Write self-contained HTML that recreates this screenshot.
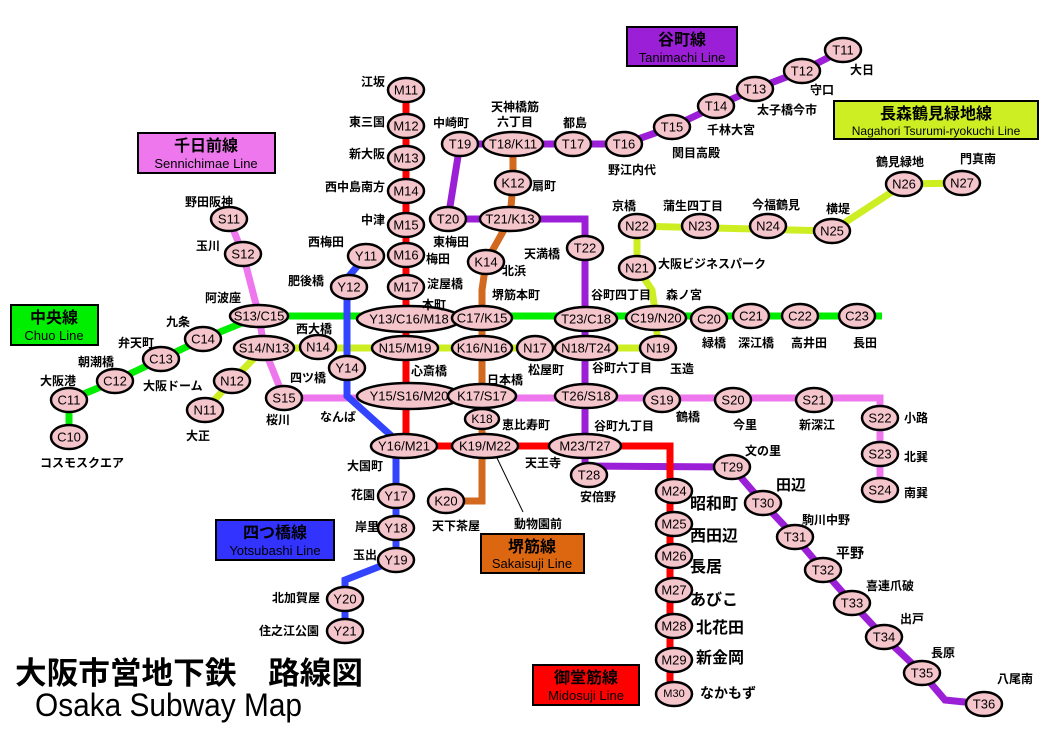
<!DOCTYPE html>
<html><head><meta charset="utf-8"><style>
html,body{margin:0;padding:0;background:#fff;}
svg{display:block;font-family:"Liberation Sans","Noto Sans CJK JP",sans-serif;}
.st ellipse{fill:#f5c5cc;stroke:#000;stroke-width:2.5;}
.c{font-size:13px;text-anchor:middle;dominant-baseline:central;fill:#000;}
.l{font-size:12px;font-weight:bold;fill:#000;}
.lb{font-size:16px;font-weight:bold;fill:#000;}
.e{text-anchor:end}.m{text-anchor:middle}
</style></head><body>
<svg width="1052" height="744" viewBox="0 0 1052 744" xmlns="http://www.w3.org/2000/svg">
<g fill="none" stroke-width="7" stroke-linejoin="miter">
<polyline stroke="#00ee00" points="69,437 69,400 115,381 161,359 203,339 259,316 882,316"/>
<polyline stroke="#ccee22" points="205,410 232,381 264,348 658,348"/>
<polyline stroke="#ccee22" points="658,348 656,318 652,290 637,268 637,226 832,231 904,184 962,183"/>
<polyline stroke="#ee77ee" points="229,219 243,254 259,316 264,348 284,398 880,398 880,490"/>
<polyline stroke="#3344ff" points="366,256 349,276 347,300 347,396 396,440 396,560 345,580 345,631"/>
<polyline stroke="#9b1fd6" points="843,50 802,71 755,89 716,106 672,127 624,144 460,144 448,219 585,219 585,466 732,467 763,503 795,537 823,570 852,603 884,637 922,673 945,700 984,704"/>
<polyline stroke="#d2691e" points="513,144 513,183 510,219 486,262 482,290 482,501 446,501"/>
<polyline stroke="#ff0000" points="406,90 406,446 670,446 670,694"/>
</g>
<line x1="497" y1="458" x2="523" y2="512" stroke="#000" stroke-width="1"/>
<g class="st">
<ellipse cx="406" cy="90" rx="18" ry="12"/><ellipse cx="406" cy="126" rx="18" ry="12"/><ellipse cx="406" cy="158" rx="18" ry="12"/><ellipse cx="406" cy="191" rx="18" ry="12"/><ellipse cx="406" cy="225" rx="18" ry="12"/><ellipse cx="406" cy="255" rx="18" ry="12"/><ellipse cx="406" cy="287" rx="18" ry="12"/>
<ellipse cx="409" cy="319" rx="52" ry="13"/><ellipse cx="405" cy="348" rx="33" ry="12"/><ellipse cx="409" cy="396" rx="52" ry="13"/><ellipse cx="404" cy="446" rx="33" ry="12"/><ellipse cx="485" cy="446" rx="33" ry="12"/><ellipse cx="585" cy="446" rx="36" ry="12"/>
<ellipse cx="674" cy="491" rx="18" ry="12"/><ellipse cx="674" cy="524" rx="18" ry="12"/><ellipse cx="674" cy="556" rx="18" ry="12"/><ellipse cx="674" cy="590" rx="18" ry="12"/><ellipse cx="674" cy="626" rx="18" ry="12"/><ellipse cx="674" cy="660" rx="18" ry="12"/><ellipse cx="674" cy="694" rx="18" ry="12"/>
<ellipse cx="843" cy="50" rx="18" ry="12"/><ellipse cx="802" cy="71" rx="18" ry="12"/><ellipse cx="755" cy="89" rx="18" ry="12"/><ellipse cx="716" cy="106" rx="18" ry="12"/><ellipse cx="672" cy="127" rx="18" ry="12"/><ellipse cx="624" cy="144" rx="18" ry="12"/><ellipse cx="573" cy="144" rx="18" ry="12"/><ellipse cx="513" cy="144" rx="30" ry="12"/><ellipse cx="460" cy="144" rx="18" ry="12"/><ellipse cx="448" cy="219" rx="18" ry="12"/><ellipse cx="510" cy="219" rx="30" ry="12"/><ellipse cx="585" cy="248" rx="18" ry="12"/><ellipse cx="586" cy="319" rx="31" ry="12"/><ellipse cx="586" cy="348" rx="31" ry="12"/><ellipse cx="586" cy="396" rx="31" ry="12"/><ellipse cx="589" cy="475" rx="18" ry="12"/>
<ellipse cx="732" cy="467" rx="18" ry="12"/><ellipse cx="763" cy="503" rx="18" ry="12"/><ellipse cx="795" cy="537" rx="18" ry="12"/><ellipse cx="823" cy="570" rx="18" ry="12"/><ellipse cx="852" cy="603" rx="18" ry="12"/><ellipse cx="884" cy="637" rx="18" ry="12"/><ellipse cx="922" cy="673" rx="18" ry="12"/><ellipse cx="984" cy="704" rx="18" ry="12"/>
<ellipse cx="513" cy="183" rx="18" ry="12"/><ellipse cx="486" cy="262" rx="18" ry="12"/><ellipse cx="482" cy="318" rx="30" ry="12"/><ellipse cx="482" cy="348" rx="30" ry="12"/><ellipse cx="482" cy="396" rx="34" ry="12"/><ellipse cx="482" cy="419" rx="17" ry="10"/><ellipse cx="446" cy="501" rx="18" ry="12"/>
<ellipse cx="69" cy="437" rx="18" ry="12"/><ellipse cx="69" cy="400" rx="18" ry="12"/><ellipse cx="115" cy="381" rx="18" ry="12"/><ellipse cx="161" cy="359" rx="18" ry="12"/><ellipse cx="203" cy="339" rx="18" ry="12"/><ellipse cx="259" cy="316" rx="29" ry="11"/><ellipse cx="656" cy="318" rx="30" ry="12"/><ellipse cx="709" cy="319" rx="18" ry="12"/><ellipse cx="751" cy="316" rx="18" ry="12"/><ellipse cx="800" cy="316" rx="18" ry="12"/><ellipse cx="857" cy="316" rx="18" ry="12"/>
<ellipse cx="205" cy="410" rx="18" ry="12"/><ellipse cx="232" cy="381" rx="18" ry="12"/><ellipse cx="264" cy="348" rx="30" ry="12"/><ellipse cx="318" cy="347" rx="18" ry="12"/><ellipse cx="535" cy="348" rx="18" ry="12"/><ellipse cx="658" cy="348" rx="18" ry="12"/><ellipse cx="637" cy="268" rx="18" ry="12"/><ellipse cx="637" cy="226" rx="18" ry="12"/><ellipse cx="700" cy="226" rx="18" ry="12"/><ellipse cx="768" cy="226" rx="18" ry="12"/><ellipse cx="832" cy="231" rx="18" ry="12"/><ellipse cx="904" cy="184" rx="18" ry="12"/><ellipse cx="962" cy="183" rx="18" ry="12"/>
<ellipse cx="229" cy="219" rx="18" ry="12"/><ellipse cx="243" cy="254" rx="18" ry="12"/><ellipse cx="284" cy="398" rx="18" ry="12"/><ellipse cx="662" cy="400" rx="18" ry="12"/><ellipse cx="733" cy="400" rx="18" ry="12"/><ellipse cx="814" cy="400" rx="18" ry="12"/><ellipse cx="880" cy="418" rx="18" ry="12"/><ellipse cx="880" cy="454" rx="18" ry="12"/><ellipse cx="880" cy="490" rx="18" ry="12"/>
<ellipse cx="366" cy="256" rx="18" ry="12"/><ellipse cx="349" cy="287" rx="18" ry="12"/><ellipse cx="347" cy="368" rx="18" ry="12"/><ellipse cx="396" cy="496" rx="18" ry="12"/><ellipse cx="396" cy="528" rx="18" ry="12"/><ellipse cx="396" cy="560" rx="18" ry="12"/><ellipse cx="345" cy="599" rx="18" ry="12"/><ellipse cx="345" cy="631" rx="18" ry="12"/>
</g>
<g class="c">
<text x="406" y="90">M11</text><text x="406" y="126">M12</text><text x="406" y="158">M13</text><text x="406" y="191">M14</text><text x="406" y="225">M15</text><text x="406" y="255">M16</text><text x="406" y="287">M17</text>
<text x="409" y="319">Y13/C16/M18</text><text x="405" y="348">N15/M19</text><text x="409" y="396">Y15/S16/M20</text><text x="404" y="446">Y16/M21</text><text x="485" y="446">K19/M22</text><text x="585" y="446">M23/T27</text>
<text x="674" y="491">M24</text><text x="674" y="524">M25</text><text x="674" y="556">M26</text><text x="674" y="590">M27</text><text x="674" y="626">M28</text><text x="674" y="660">M29</text><text x="674" y="694" style="font-size:11px">M30</text>
<text x="843" y="50">T11</text><text x="802" y="71">T12</text><text x="755" y="89">T13</text><text x="716" y="106">T14</text><text x="672" y="127">T15</text><text x="624" y="144">T16</text><text x="573" y="144">T17</text><text x="513" y="144">T18/K11</text><text x="460" y="144">T19</text><text x="448" y="219">T20</text><text x="510" y="219">T21/K13</text><text x="585" y="248">T22</text><text x="586" y="319">T23/C18</text><text x="586" y="348">N18/T24</text><text x="586" y="396">T26/S18</text><text x="589" y="475">T28</text>
<text x="732" y="467">T29</text><text x="763" y="503">T30</text><text x="795" y="537">T31</text><text x="823" y="570">T32</text><text x="852" y="603">T33</text><text x="884" y="637">T34</text><text x="922" y="673">T35</text><text x="984" y="704">T36</text>
<text x="513" y="183">K12</text><text x="486" y="262">K14</text><text x="482" y="318">C17/K15</text><text x="482" y="348">K16/N16</text><text x="482" y="396">K17/S17</text><text x="482" y="419" style="font-size:12px">K18</text><text x="446" y="501">K20</text>
<text x="69" y="437">C10</text><text x="69" y="400">C11</text><text x="115" y="381">C12</text><text x="161" y="359">C13</text><text x="203" y="339">C14</text><text x="259" y="316">S13/C15</text><text x="656" y="318">C19/N20</text><text x="709" y="319">C20</text><text x="751" y="316">C21</text><text x="800" y="316">C22</text><text x="857" y="316">C23</text>
<text x="205" y="410">N11</text><text x="232" y="381">N12</text><text x="264" y="348">S14/N13</text><text x="318" y="347">N14</text><text x="535" y="348">N17</text><text x="658" y="348">N19</text><text x="637" y="268">N21</text><text x="637" y="226">N22</text><text x="700" y="226">N23</text><text x="768" y="226">N24</text><text x="832" y="231">N25</text><text x="904" y="184">N26</text><text x="962" y="183">N27</text>
<text x="229" y="219">S11</text><text x="243" y="254">S12</text><text x="284" y="398">S15</text><text x="662" y="400">S19</text><text x="733" y="400">S20</text><text x="814" y="400">S21</text><text x="880" y="418">S22</text><text x="880" y="454">S23</text><text x="880" y="490">S24</text>
<text x="366" y="256">Y11</text><text x="349" y="287">Y12</text><text x="347" y="368">Y14</text><text x="396" y="496">Y17</text><text x="396" y="528">Y18</text><text x="396" y="560">Y19</text><text x="345" y="599">Y20</text><text x="345" y="631">Y21</text>
</g>
<g class="l">
<text x="385" y="86" class="e">江坂</text><text x="385" y="126" class="e">東三国</text><text x="385" y="158" class="e">新大阪</text><text x="385" y="191" class="e">西中島南方</text><text x="385" y="224" class="e">中津</text><text x="426" y="263">梅田</text><text x="427" y="288">淀屋橋</text><text x="422" y="309">本町</text><text x="411" y="375">心斎橋</text><text x="347" y="470">大国町</text>
<text x="850" y="74">大日</text><text x="810" y="94">守口</text><text x="757" y="114">太子橋今市</text><text x="707" y="134">千林大宮</text><text x="672" y="157">関目高殿</text><text x="608" y="174">野江内代</text><text x="563" y="127">都島</text><text x="515" y="111" class="m">天神橋筋</text><text x="515" y="126" class="m">六丁目</text><text x="433" y="127">中崎町</text><text x="433" y="246">東梅田</text><text x="524" y="258">天満橋</text><text x="591" y="299">谷町四丁目</text><text x="592" y="372">谷町六丁目</text><text x="594" y="430">谷町九丁目</text><text x="525" y="467">天王寺</text><text x="580" y="501">安倍野</text><text x="745" y="455">文の里</text><text x="776" y="490" style="font-size:15px">田辺</text><text x="802" y="524">駒川中野</text><text x="836" y="558" style="font-size:14px">平野</text><text x="866" y="590">喜連爪破</text><text x="900" y="623">出戸</text><text x="931" y="657">長原</text><text x="997" y="683">八尾南</text>
<text x="532" y="190">扇町</text><text x="502" y="275">北浜</text><text x="492" y="299">堺筋本町</text><text x="487" y="384">日本橋</text><text x="502" y="429">恵比寿町</text><text x="432" y="530">天下茶屋</text><text x="514" y="528">動物園前</text>
<text x="40" y="385">大阪港</text><text x="78" y="366">朝潮橋</text><text x="118" y="347">弁天町</text><text x="166" y="326">九条</text><text x="205" y="302">阿波座</text><text x="702" y="347">緑橋</text><text x="738" y="347">深江橋</text><text x="791" y="347">高井田</text><text x="853" y="347">長田</text><text x="40" y="467">コスモスクエア</text>
<text x="186" y="440">大正</text><text x="143" y="390">大阪ドーム</text><text x="296" y="333">西大橋</text><text x="528" y="374">松屋町</text><text x="670" y="373">玉造</text><text x="666" y="299">森ノ宮</text><text x="658" y="268">大阪ビジネスパーク</text><text x="612" y="210">京橋</text><text x="663" y="210">蒲生四丁目</text><text x="752" y="209">今福鶴見</text><text x="826" y="213">横堤</text><text x="876" y="166">鶴見緑地</text><text x="960" y="163">門真南</text>
<text x="185" y="206">野田阪神</text><text x="196" y="250">玉川</text><text x="290" y="382">四ツ橋</text><text x="266" y="424">桜川</text><text x="676" y="421">鶴橋</text><text x="733" y="429">今里</text><text x="799" y="429">新深江</text><text x="904" y="422">小路</text><text x="904" y="461">北巽</text><text x="904" y="497">南巽</text>
<text x="308" y="246">西梅田</text><text x="288" y="285">肥後橋</text><text x="320" y="421">なんば</text><text x="351" y="499">花園</text><text x="355" y="531">岸里</text><text x="353" y="559">玉出</text><text x="272" y="602">北加賀屋</text><text x="259" y="635">住之江公園</text>
</g>
<g class="lb">
<text x="690" y="509">昭和町</text><text x="690" y="541">西田辺</text><text x="690" y="572">長居</text><text x="690" y="605">あびこ</text><text x="696" y="633">北花田</text><text x="696" y="663">新金岡</text><text x="700" y="698" style="font-size:14px">なかもず</text>
</g>
<g stroke="#000" stroke-width="2">
<rect x="627" y="27" width="110" height="39" fill="#9b1fd6"/>
<rect x="138" y="133" width="137" height="40" fill="#ee77ee"/>
<rect x="834" y="101" width="204" height="38" fill="#ccee22"/>
<rect x="11" y="305" width="87" height="40" fill="#00ee00"/>
<rect x="216" y="520" width="118" height="40" fill="#3333ff"/>
<rect x="481" y="534" width="103" height="39" fill="#dd6611"/>
<rect x="533" y="665" width="106" height="40" fill="#ff0000"/>
</g>
<g text-anchor="middle" fill="#000">
<text x="682" y="45" font-size="16" font-weight="bold">谷町線</text><text x="682" y="62" font-size="13">Tanimachi Line</text>
<text x="206" y="151" font-size="16" font-weight="bold">千日前線</text><text x="206" y="168" font-size="13">Sennichimae Line</text>
<text x="936" y="119" font-size="16" font-weight="bold">長森鶴見緑地線</text><text x="936" y="135" font-size="12">Nagahori Tsurumi-ryokuchi Line</text>
<text x="54" y="323" font-size="16" font-weight="bold">中央線</text><text x="54" y="340" font-size="13">Chuo Line</text>
<text x="275" y="538" font-size="16" font-weight="bold">四つ橋線</text><text x="275" y="555" font-size="13">Yotsubashi Line</text>
<text x="532" y="552" font-size="16" font-weight="bold">堺筋線</text><text x="532" y="568" font-size="13">Sakaisuji Line</text>
<text x="586" y="683" font-size="16" font-weight="bold">御堂筋線</text><text x="586" y="700" font-size="13">Midosuji Line</text>
</g>
<text x="15" y="684" font-size="31" font-weight="bold" fill="#000" textLength="348" lengthAdjust="spacingAndGlyphs">大阪市営地下鉄　路線図</text>
<text x="35" y="716" font-size="32" fill="#000" textLength="267" lengthAdjust="spacingAndGlyphs">Osaka Subway Map</text>
</svg>
</body></html>
